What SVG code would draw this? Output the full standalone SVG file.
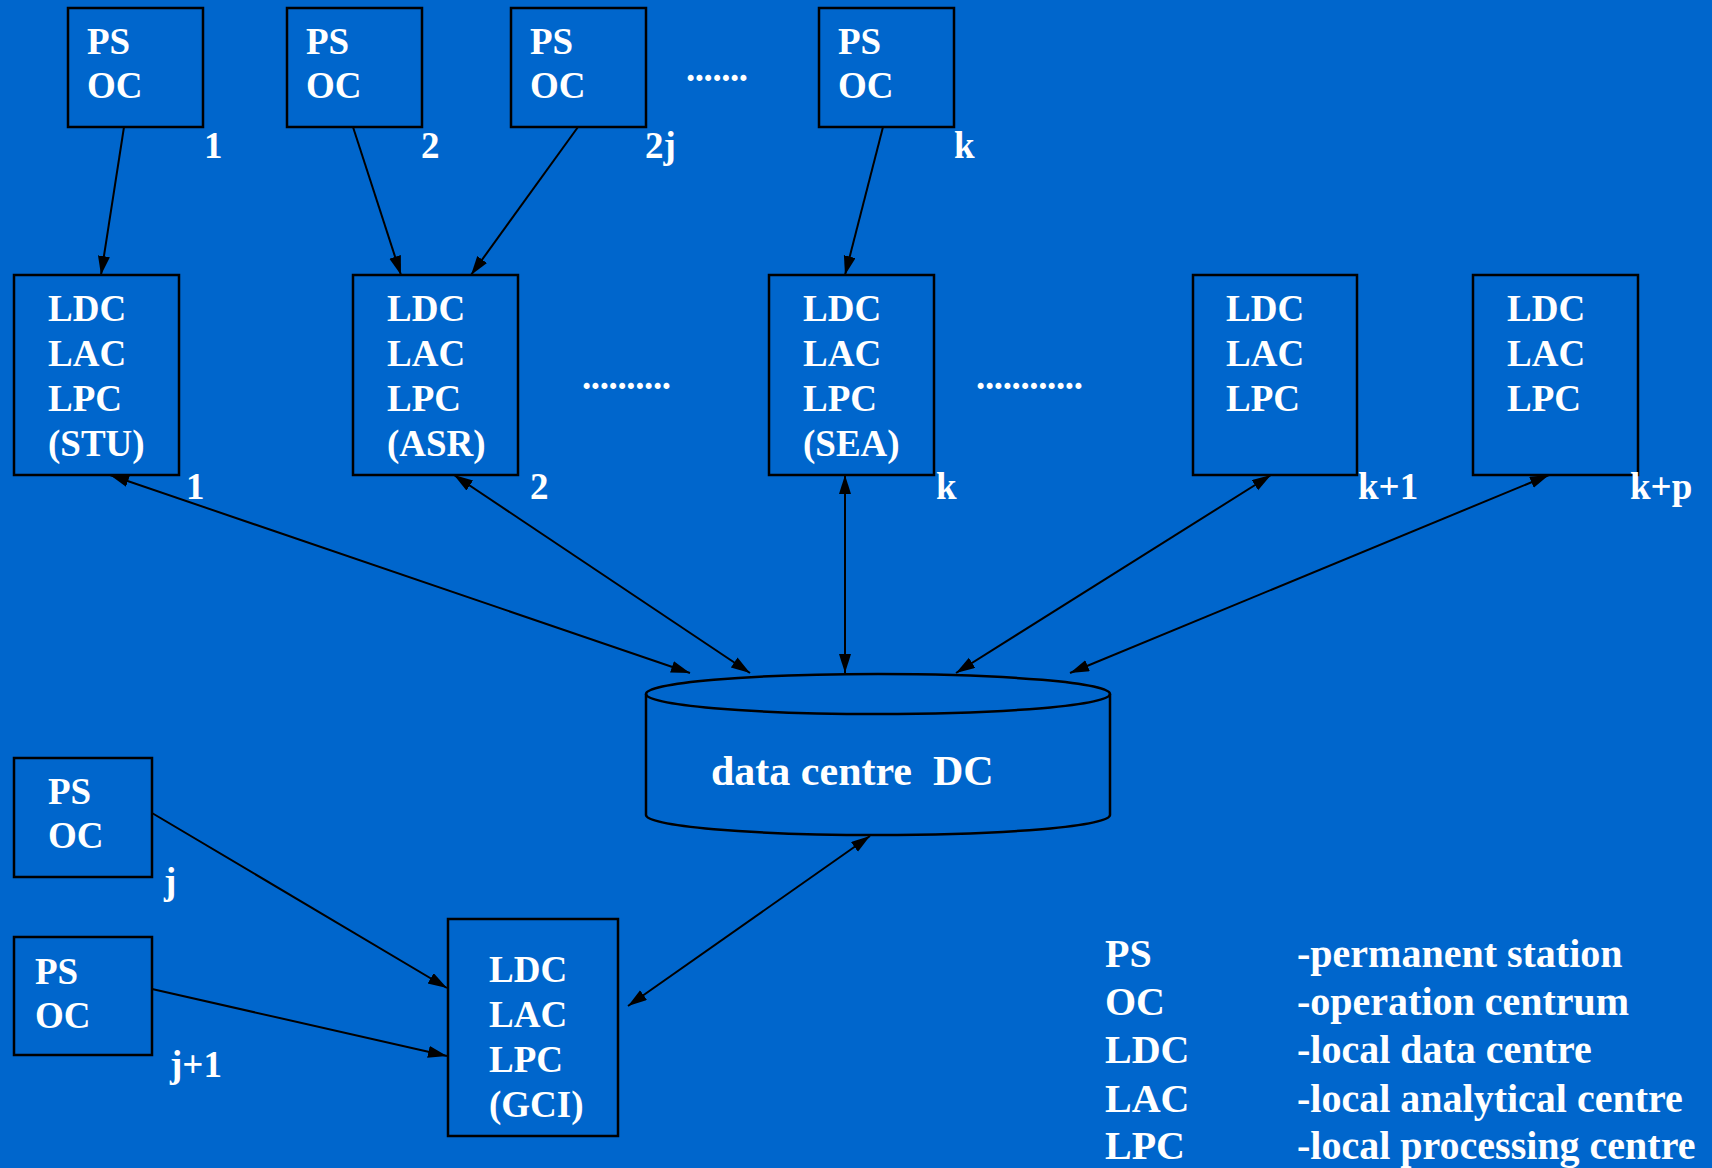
<svg xmlns="http://www.w3.org/2000/svg" width="1712" height="1168" viewBox="0 0 1712 1168">
<style>
.box{fill:none;stroke:#000;stroke-width:2.5}
.t{font-family:"Liberation Serif","Times New Roman",serif;font-weight:bold;font-size:37px;fill:#fff}
.lg{font-family:"Liberation Serif","Times New Roman",serif;font-weight:bold;font-size:40px;fill:#fff}
.ln{fill:none;stroke:#000;stroke-width:2}
.a1{marker-end:url(#ah)}
.a2{marker-start:url(#ah);marker-end:url(#ah)}
</style>
<defs>
<marker id="ah" markerUnits="userSpaceOnUse" markerWidth="20" markerHeight="14" refX="19" refY="6" orient="auto-start-reverse">
<path d="M0,0 L19,6 L0,12 z" fill="#000"/>
</marker>
</defs>
<rect width="1712" height="1168" fill="#0066CC"/>

<g id="ps1"><rect class="box" x="68" y="8" width="135" height="119"/><text class="t" x="87" y="54">PS</text><text class="t" x="87" y="98">OC</text><text class="t" x="204" y="158">1</text></g>
<g id="ps2"><rect class="box" x="287" y="8" width="135" height="119"/><text class="t" x="306" y="54">PS</text><text class="t" x="306" y="98">OC</text><text class="t" x="421" y="158">2</text></g>
<g id="ps2j"><rect class="box" x="511" y="8" width="135" height="119"/><text class="t" x="530" y="54">PS</text><text class="t" x="530" y="98">OC</text><text class="t" x="645" y="158">2j</text></g>
<g id="psk"><rect class="box" x="819" y="8" width="135" height="119"/><text class="t" x="838" y="54">PS</text><text class="t" x="838" y="98">OC</text><text class="t" x="954" y="158">k</text></g>
<g id="dots1"><text class="t" x="686" y="81" textLength="62">.......</text></g>

<g id="ldc1"><rect class="box" x="14" y="275" width="165" height="200"/><text class="t" x="48" y="321">LDC</text><text class="t" x="48" y="366">LAC</text><text class="t" x="48" y="411">LPC</text><text class="t" x="48" y="456">(STU)</text><text class="t" x="186" y="499">1</text></g>
<g id="ldc2"><rect class="box" x="353" y="275" width="165" height="200"/><text class="t" x="387" y="321">LDC</text><text class="t" x="387" y="366">LAC</text><text class="t" x="387" y="411">LPC</text><text class="t" x="387" y="456">(ASR)</text><text class="t" x="530" y="499">2</text></g>
<g id="ldck"><rect class="box" x="769" y="275" width="165" height="200"/><text class="t" x="803" y="321">LDC</text><text class="t" x="803" y="366">LAC</text><text class="t" x="803" y="411">LPC</text><text class="t" x="803" y="456">(SEA)</text><text class="t" x="936" y="499">k</text></g>
<g id="ldck1"><rect class="box" x="1193" y="275" width="164" height="200"/><text class="t" x="1226" y="321">LDC</text><text class="t" x="1226" y="366">LAC</text><text class="t" x="1226" y="411">LPC</text><text class="t" x="1358" y="499">k+1</text></g>
<g id="ldckp"><rect class="box" x="1473" y="275" width="165" height="200"/><text class="t" x="1507" y="321">LDC</text><text class="t" x="1507" y="366">LAC</text><text class="t" x="1507" y="411">LPC</text><text class="t" x="1630" y="499">k+p</text></g>
<g id="dots2"><text class="t" x="582" y="389" textLength="89">..........</text></g>
<g id="dots3"><text class="t" x="976" y="389" textLength="107">............</text></g>

<g id="dc">
<path class="box" d="M646,694 L646,815 A232,20 0 0 0 1110,815 L1110,694"/>
<ellipse class="box" cx="878" cy="694" rx="232" ry="20"/>
<text class="t" x="711" y="785" style="font-size:42px;white-space:pre" xml:space="preserve">data centre  DC</text>
</g>

<g id="psj"><rect class="box" x="14" y="758" width="138" height="119"/><text class="t" x="48" y="804">PS</text><text class="t" x="48" y="848">OC</text><text class="t" x="164" y="894">j</text></g>
<g id="psj1"><rect class="box" x="14" y="937" width="138" height="118"/><text class="t" x="35" y="984">PS</text><text class="t" x="35" y="1028">OC</text><text class="t" x="170" y="1077">j+1</text></g>
<g id="gci"><rect class="box" x="448" y="919" width="170" height="217"/><text class="t" x="489" y="982">LDC</text><text class="t" x="489" y="1027">LAC</text><text class="t" x="489" y="1072">LPC</text><text class="t" x="489" y="1117">(GCI)</text></g>

<g id="legend">
<text class="lg" x="1105" y="967">PS</text><text class="lg" x="1297" y="967">-permanent station</text>
<text class="lg" x="1105" y="1015">OC</text><text class="lg" x="1297" y="1015">-operation centrum</text>
<text class="lg" x="1105" y="1063">LDC</text><text class="lg" x="1297" y="1063">-local data centre</text>
<text class="lg" x="1105" y="1112">LAC</text><text class="lg" x="1297" y="1112">-local analytical centre</text>
<text class="lg" x="1105" y="1159">LPC</text><text class="lg" x="1297" y="1159">-local processing centre</text>
</g>

<g id="connectors">
<line class="ln a1" x1="124" y1="127" x2="101" y2="275"/>
<line class="ln a1" x1="353" y1="127" x2="401" y2="275"/>
<line class="ln a1" x1="578" y1="127" x2="471" y2="275"/>
<line class="ln a1" x1="883" y1="127" x2="845" y2="275"/>
<line class="ln a2" x1="110" y1="475" x2="690" y2="673"/>
<line class="ln a2" x1="454" y1="475" x2="750" y2="673"/>
<line class="ln a2" x1="845" y1="475" x2="845" y2="673"/>
<line class="ln a2" x1="1271" y1="475" x2="956" y2="673"/>
<line class="ln a2" x1="1549" y1="475" x2="1070" y2="673"/>
<line class="ln a1" x1="152" y1="813" x2="447" y2="988"/>
<line class="ln a1" x1="152" y1="989" x2="447" y2="1056"/>
<line class="ln a2" x1="870" y1="836" x2="628" y2="1006"/>
</g>
</svg>
